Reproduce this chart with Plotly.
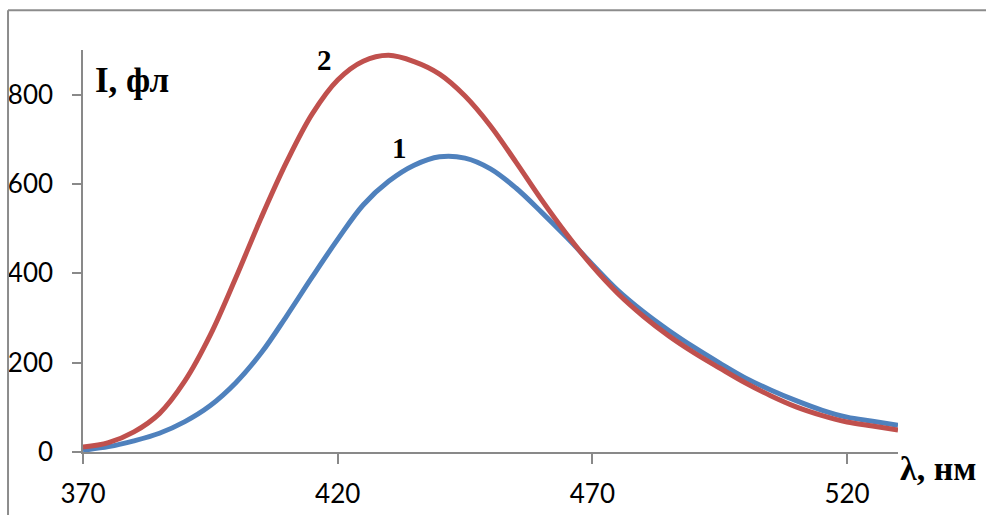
import plotly.graph_objects as go

# Emission spectra: wavelength (nm) vs fluorescence intensity (arb. units)
wavelength = [370, 375, 380, 385, 390, 395, 400, 405, 410, 415, 420, 425, 430,
              435, 440, 445, 450, 455, 460, 465, 470, 475, 480, 485, 490, 495,
              500, 505, 510, 515, 520, 525, 530]

intensity_1 = [4, 12, 25, 42, 68, 104, 155, 222, 305, 392, 476, 553, 606,
               642, 661, 658, 634, 591, 537, 480, 420, 362, 314, 272, 234, 199,
               166, 139, 115, 94, 78, 69, 60]

intensity_2 = [11, 21, 45, 86, 159, 262, 390, 525, 650, 757, 833, 875, 888,
               874, 846, 797, 730, 649, 565, 487, 416, 355, 304, 260, 222, 188,
               155, 126, 101, 82, 67, 58, 49]

y_ticks = [0, 200, 400, 600, 800]
x_ticks = [370, 420, 470, 520]

BLUE = "#4F81BD"
RED = "#C0504D"
AXIS = "#898989"
TICK_FONT = dict(family="Lato, Open Sans, sans-serif", size=26, color="#000000")
SERIF_BOLD = "Liberation Serif, Times New Roman, serif"

fig = go.Figure()
fig.add_trace(go.Scatter(x=wavelength, y=intensity_1, mode="lines",
                         line=dict(color=BLUE, width=5, shape="spline", smoothing=1.0),
                         name="1", hoverinfo="skip"))
fig.add_trace(go.Scatter(x=wavelength, y=intensity_2, mode="lines",
                         line=dict(color=RED, width=5, shape="spline", smoothing=1.0),
                         name="2", hoverinfo="skip"))

fig.update_layout(
    width=986, height=515,
    margin=dict(l=83, r=88, t=50, b=63),
    paper_bgcolor="white", plot_bgcolor="white",
    showlegend=False,
    xaxis=dict(range=[370, 530], tickvals=x_ticks, ticktext=[str(v) for v in x_ticks],
               showgrid=False, zeroline=False, showline=True, linecolor=AXIS, linewidth=1.5,
               ticks="outside", ticklen=10, tickwidth=1.5, tickcolor=AXIS,
               tickfont=TICK_FONT, ticklabelstandoff=8, automargin=False),
    yaxis=dict(range=[0, 900], tickvals=y_ticks, ticktext=[str(v) for v in y_ticks],
               showgrid=False, zeroline=False, showline=True, linecolor=AXIS, linewidth=1.5,
               ticks="outside", ticklen=9, tickwidth=1.5, tickcolor=AXIS,
               tickfont=TICK_FONT, ticklabelstandoff=14, automargin=False),
)

# Axis titles and curve labels
fig.add_annotation(text="<b>I, фл</b>", xref="paper", yref="paper", x=0.012, y=0.925,
                   xanchor="left", yanchor="middle", showarrow=False,
                   font=dict(family=SERIF_BOLD, size=35, color="black"))
fig.add_annotation(text="<b>λ, нм</b>", xref="paper", yref="paper", x=1.0, y=-0.04,
                   xanchor="left", yanchor="middle", showarrow=False,
                   font=dict(family=SERIF_BOLD, size=34, color="black"))
fig.add_annotation(text="<b>2</b>", x=417.5, y=877, xanchor="center", yanchor="middle",
                   showarrow=False, font=dict(family=SERIF_BOLD, size=29, color="black"))
fig.add_annotation(text="<b>1</b>", x=432.2, y=680, xanchor="center", yanchor="middle",
                   showarrow=False, font=dict(family=SERIF_BOLD, size=29, color="black"))

# Outer frame (left and top edges)
frame = dict(color="#8C8C8C", width=2)
fig.add_shape(type="line", xref="paper", yref="paper", x0=-0.092, x1=1.2,
              y0=1.099, y1=1.099, line=frame)
fig.add_shape(type="line", xref="paper", yref="paper", x0=-0.092, x1=-0.092,
              y0=1.099, y1=-0.2, line=frame)

fig.write_html("out.html")
